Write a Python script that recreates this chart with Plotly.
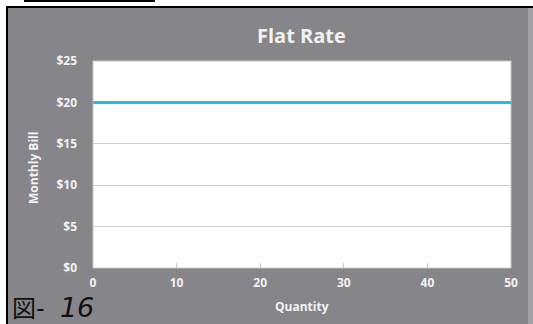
import plotly.graph_objects as go

# Flat-rate billing: the monthly bill stays the same regardless of quantity
quantity = [0, 10, 20, 30, 40, 50]
monthly_bill = [20, 20, 20, 20, 20, 20]

x_ticks = [0, 10, 20, 30, 40, 50]
y_ticks = [0, 5, 10, 15, 20, 25]
y_tick_labels = ["$0", "$5", "$10", "$15", "$20", "$25"]

W, H = 533, 324
L, R, T, B = 93, 511, 61, 268  # plot area edges in pixels


def px(x):
    return (x - L) / (R - L)


def py(y):
    return (B - y) / (B - T)


PANEL = "#868589"
TXT = "#f2f2f2"
FONT = "Open Sans"

fig = go.Figure()
fig.add_trace(go.Scatter(
    x=quantity, y=monthly_bill, mode="lines",
    line=dict(color="#1fc0e2", width=3), showlegend=False,
    hoverinfo="skip",
))

shapes = [
    # grey panel
    dict(type="rect", xref="paper", yref="paper", layer="below",
         x0=px(7), x1=px(528), y0=py(7), y1=py(324),
         fillcolor=PANEL, line=dict(width=0)),
    # light strip on the right edge
    dict(type="rect", xref="paper", yref="paper", layer="below",
         x0=px(528), x1=px(533), y0=py(7), y1=py(324),
         fillcolor="#a3a2a6", line=dict(width=0)),
    # white plotting area
    dict(type="rect", xref="paper", yref="paper", layer="below",
         x0=0, x1=1, y0=0, y1=1,
         fillcolor="white", line=dict(color="#c8c8c8", width=1)),
    # dark frame: top and left
    dict(type="rect", xref="paper", yref="paper",
         x0=px(6), x1=px(533), y0=py(6), y1=py(8),
         fillcolor="black", line=dict(width=0)),
    dict(type="rect", xref="paper", yref="paper",
         x0=px(6), x1=px(8), y0=py(6), y1=py(324),
         fillcolor="black", line=dict(width=0)),
    # short rule above the panel
    dict(type="rect", xref="paper", yref="paper",
         x0=px(24), x1=px(155), y0=py(0), y1=py(2),
         fillcolor="black", line=dict(width=0)),
]

annotations = [
    dict(text="<b>Flat Rate</b>", xref="paper", yref="paper",
         x=px(301), y=py(36), xanchor="center", yanchor="middle",
         showarrow=False, font=dict(family=FONT, size=20, color=TXT)),
    dict(text="<b>Monthly Bill</b>", xref="paper", yref="paper",
         x=px(33), y=py(168), xanchor="center", yanchor="middle",
         textangle=-90, showarrow=False,
         font=dict(family=FONT, size=12, color=TXT)),
    dict(text="<b>Quantity</b>", xref="paper", yref="paper",
         x=px(302), y=py(306), xanchor="center", yanchor="middle",
         showarrow=False, font=dict(family=FONT, size=12, color=TXT)),
    dict(text="図-  <span style='font-size:27px'><i>16</i></span>",
         xref="paper", yref="paper",
         x=px(10), y=py(307), xanchor="left", yanchor="middle",
         showarrow=False,
         font=dict(family="DejaVu Sans, Noto Sans CJK JP", size=24, color="#111111")),
]

fig.update_layout(
    width=W, height=H,
    margin=dict(l=L, r=W - R, t=T, b=H - B),
    paper_bgcolor="white",
    plot_bgcolor="rgba(0,0,0,0)",
    shapes=shapes,
    annotations=annotations,
    xaxis=dict(
        range=[0, 50], tickvals=x_ticks, ticks="inside", ticklen=5,
        tickcolor="#c8c8c8", showgrid=False, zeroline=False, showline=False,
        tickfont=dict(family=FONT, size=12, color=TXT, weight="bold"),
        ticklabelstandoff=6,
    ),
    yaxis=dict(
        range=[0, 25], tickvals=y_ticks, ticktext=y_tick_labels,
        showgrid=True, gridcolor="#cfcfcf", gridwidth=1,
        zeroline=False, showline=False, ticks="",
        tickfont=dict(family=FONT, size=12, color=TXT, weight="bold"),
        ticklabelstandoff=15,
    ),
)

fig.write_html("out.html")
